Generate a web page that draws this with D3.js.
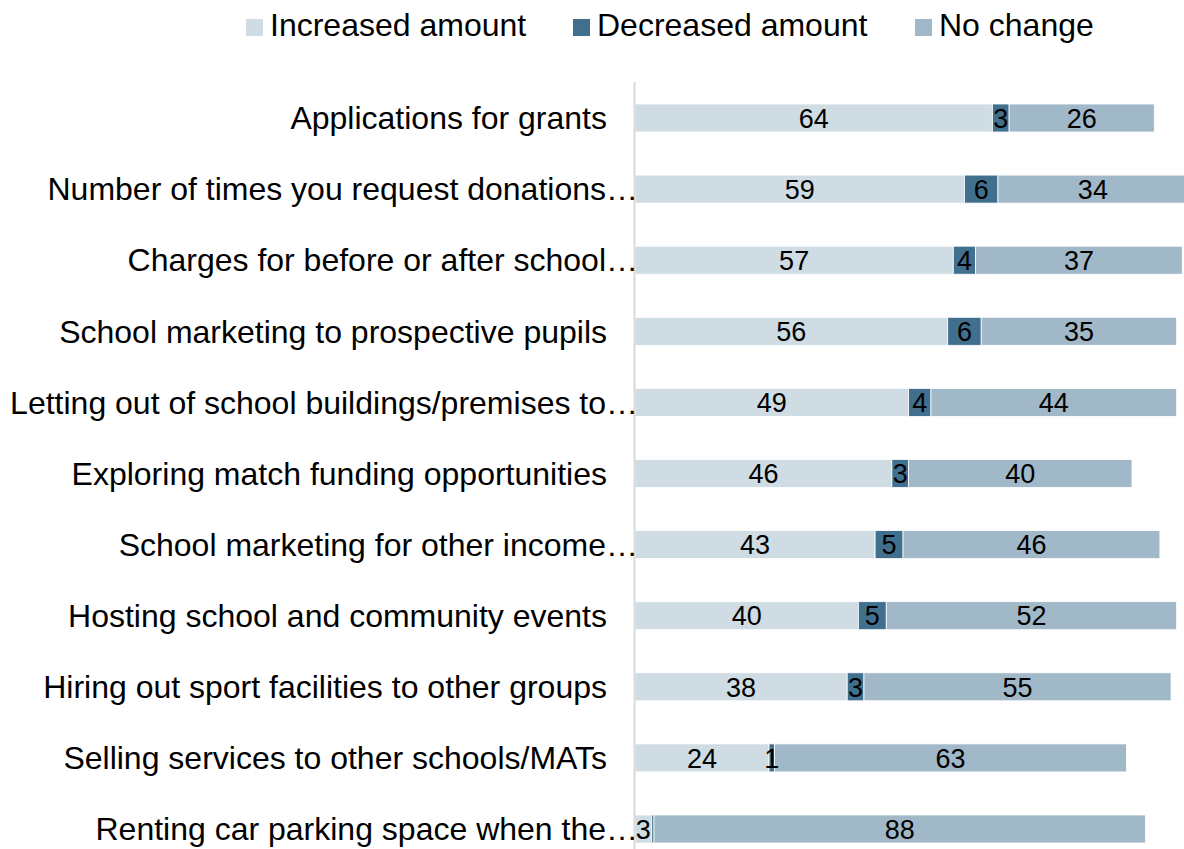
<!DOCTYPE html>
<html>
<head>
<meta charset="utf-8">
<script src="https://cdn.jsdelivr.net/npm/d3@7"></script>
<style>
  html, body { margin: 0; padding: 0; background: #ffffff; }
  svg { display: block; font-family: "Liberation Sans", Arial, sans-serif; }
</style>
</head>
<body>
<svg id="chart" width="1184" height="849"></svg>
<script>
// Income-generation activities and how the amount changed
const categories = [
  "Applications for grants",
  "Number of times you request donations\u2026",
  "Charges for before or after school\u2026",
  "School marketing to prospective pupils",
  "Letting out of school buildings/premises to\u2026",
  "Exploring match funding opportunities",
  "School marketing for other income\u2026",
  "Hosting school and community events",
  "Hiring out sport facilities to other groups",
  "Selling services to other schools/MATs",
  "Renting car parking space when the\u2026"
];
const increased = [64, 59, 57, 56, 49, 46, 43, 40, 38, 24, 3];
const decreased = [3, 6, 4, 6, 4, 3, 5, 5, 3, 1, 0.4];
const noChange  = [26, 34, 37, 35, 44, 40, 46, 52, 55, 63, 88];
const seriesNames = ["Increased amount", "Decreased amount", "No change"];
const seriesColors = ["#cfdce4", "#41708f", "#a1b8c8"];

const svg = d3.select("#chart");
const axisX = 635;

const x = d3.scaleLinear().domain([0, 100]).range([axisX, 1193.4]);
const y = d3.scaleBand().domain(categories)
  .range([82.45, 864.55]).paddingInner(0.606).paddingOuter(0.303);

const rows = categories.map((c, i) => ({
  cat: c, v: [increased[i], decreased[i], noChange[i]]
}));

// stacked segments
const segs = [];
rows.forEach(r => {
  let acc = 0;
  r.v.forEach((v, k) => {
    segs.push({ cat: r.cat, k, v, x0: acc, x1: acc + v });
    acc += v;
  });
});

svg.append("g").selectAll("rect").data(segs).join("rect")
  .attr("x", d => x(d.x0))
  .attr("y", d => y(d.cat))
  .attr("width", d => x(d.x1) - x(d.x0))
  .attr("height", y.bandwidth())
  .attr("fill", d => seriesColors[d.k])
  .attr("stroke", "#ffffff")
  .attr("stroke-width", 0.8);

// value labels
svg.append("g").selectAll("text").data(segs.filter(d => d.v >= 1)).join("text")
  .attr("x", d => (x(d.x0) + x(d.x1)) / 2)
  .attr("y", d => y(d.cat) + y.bandwidth() / 2)
  .attr("dy", "0.36em")
  .attr("text-anchor", "middle")
  .attr("font-size", 27)
  .attr("fill", "#000000")
  .text(d => d.v);

// vertical category axis line
svg.append("line")
  .attr("x1", axisX - 0.5).attr("x2", axisX - 0.5)
  .attr("y1", 82).attr("y2", 849)
  .attr("stroke", "#d9d9d9").attr("stroke-width", 2);

// category labels
svg.append("g").selectAll("text").data(categories).join("text")
  .attr("x", d => d.endsWith("\u2026") ? axisX + 3 : axisX - 28)
  .attr("y", d => y(d) + y.bandwidth() / 2)
  .attr("dy", "0.35em")
  .attr("text-anchor", "end")
  .attr("font-size", 32)
  .attr("fill", "#000000")
  .text(d => d);

// legend
const legendX = [246, 573, 915];
const legend = svg.append("g").selectAll("g").data(seriesNames).join("g")
  .attr("transform", (d, i) => `translate(${legendX[i]},19)`);
legend.append("rect")
  .attr("width", 17).attr("height", 17)
  .attr("fill", (d, i) => seriesColors[i]);
legend.append("text")
  .attr("x", 24).attr("y", 17)
  .attr("font-size", 32)
  .attr("fill", "#000000")
  .text(d => d);
</script>
</body>
</html>
